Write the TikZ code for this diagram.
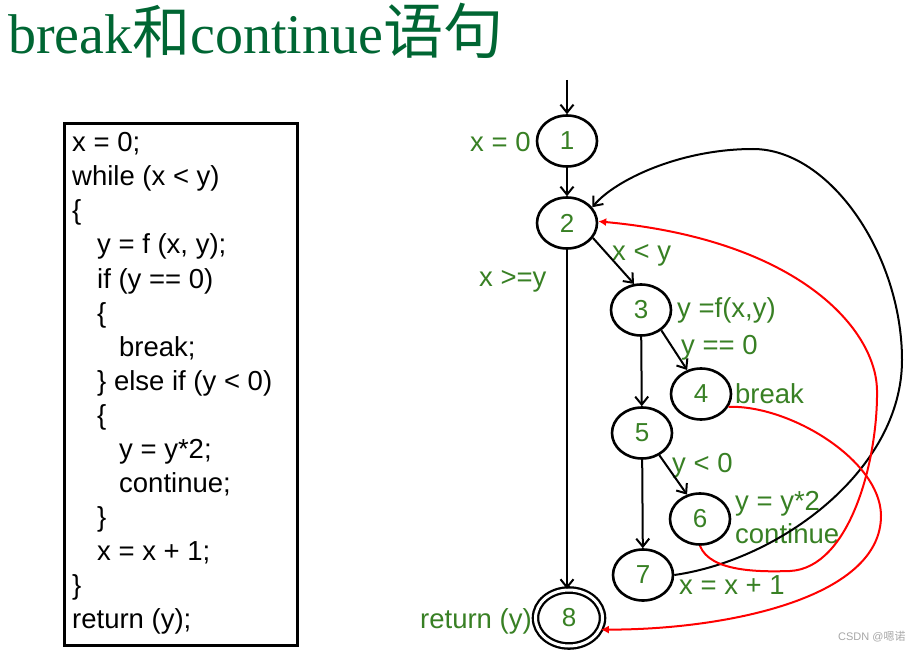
\documentclass[tikz,border=0pt]{standalone}
\usepackage{fontspec}
\newfontfamily\arial{Liberation Sans}
\newfontfamily\titleserif{Liberation Serif}
\newfontfamily\cjk{Noto Sans CJK SC}
\usetikzlibrary{shapes.geometric,arrows.meta}
\definecolor{titlegreen}{RGB}{0,102,51}
\definecolor{lblgreen}{RGB}{56,128,36}
\tikzset{
 cfgnode/.style={ellipse,draw=black,line width=2.6pt,minimum width=60pt,minimum height=51pt,inner sep=0pt,text=lblgreen,font=\arial\fontsize{26}{26}\selectfont},
 exitnode/.style={cfgnode,double,double distance=3pt,line width=2.3pt,minimum width=67pt,minimum height=56pt},
 codeline/.style={anchor=base west,inner sep=0pt,font=\arial\fontsize{27.5}{27.5}\selectfont},
 lbl/.style={anchor=base west,inner sep=0pt,text=lblgreen,font=\arial\fontsize{27.5}{27.5}\selectfont},
 flow/.style={line width=2pt,-{Straight Barb[length=8pt,width=13pt]}},
 jump/.style={red,line width=2pt,-{Latex[length=8pt,width=8pt]}},
}
\begin{document}
\begin{tikzpicture}[x=1pt,y=-1pt]
\useasboundingbox (0,0) rectangle (922,650);
% title
\node[anchor=base west,inner sep=0pt,text=titlegreen,font=\titleserif\fontsize{56}{56}\selectfont] (title) at (8,54) {break{\cjk\fontsize{58}{58}\selectfont 和}continue{\cjk\fontsize{60}{60}\selectfont 语句}};
% code box
\node[draw,line width=2.6pt,minimum width=233pt,minimum height=522pt,inner sep=0pt,anchor=north west] (codebox) at (63,122) {};
\node[codeline] (c1) at (72,152) {x = 0;};
\node[codeline] (c2) at (72,186) {while (x < y)};
\node[codeline] (c3) at (72,220) {\{};
\node[codeline] (c4) at (97,254) {y = f (x, y);};
\node[codeline] (c5) at (97,288) {if (y == 0)};
\node[codeline] (c6) at (97,322) {\{};
\node[codeline] (c7) at (119,356) {break;};
\node[codeline] (c8) at (97,390) {\} else if (y < 0)};
\node[codeline] (c9) at (97,424) {\{};
\node[codeline] (c10) at (119,458) {y = y*2;};
\node[codeline] (c11) at (119,492) {continue;};
\node[codeline] (c12) at (97,526) {\}};
\node[codeline] (c13) at (97,560) {x = x + 1;};
\node[codeline] (c14) at (72,594) {\}};
\node[codeline] (c15) at (72,628) {return (y);};
% graph nodes
\node[cfgnode] (n1) at (567,141) {1};
\node[cfgnode] (n2) at (567,223) {2};
\node[cfgnode] (n3) at (641,310) {3};
\node[cfgnode] (n4) at (701,394) {4};
\node[cfgnode] (n5) at (642,433) {5};
\node[cfgnode] (n6) at (700,519) {6};
\node[cfgnode] (n7) at (643,575) {7};
\node[exitnode] (n8) at (569,618) {8};
% labels
\node[lbl] (l1) at (470,152) {x = 0};
\node[lbl] (l2) at (479,287) {x >=y};
\node[lbl] (l3) at (612,260) {x < y};
\node[lbl] (l4) at (677,317) {y =f(x,y)};
\node[lbl] (l5) at (681,354) {y == 0};
\node[lbl] (l6) at (735,403) {break};
\node[lbl] (l7) at (672,472) {y < 0};
\node[lbl] (l8) at (735,510) {y = y*2};
\node[lbl] (l9) at (735,543) {continue};
\node[lbl] (l10) at (679,594) {x = x + 1};
\node[lbl] (l11) at (420,628) {return (y)};
\node[anchor=base west,inner sep=0pt,text=black!35,font=\arial\fontsize{11}{11}\selectfont] (wm) at (838,640) {CSDN @{\cjk 嗯诺}};
% edges
\coordinate (entry) at (567,80);
\draw[flow] (entry) -- (n1);
\draw[flow] (n1) -- (n2);
\draw[flow] (n2.-30) -- (n3.105);
\draw[flow] (n2.south) -- (n2.south |- n8.north);
\draw[flow] (n3) -- (n5);
\draw[flow] (n3.-45) -- (n4.120);
\draw[flow] (n5.-52) -- (n6.118);
\draw[flow] (n5) -- (n7);
\draw[flow] (n7.east) .. controls (780,560) and (902,470) .. (902,360)
  .. controls (902,255) and (830,149) .. (753,149)
  .. controls (680,149) and (615,180) .. (n2.32);
\draw[jump] (n6.south) .. controls (710,572) and (760,572) .. (790,571)
  .. controls (850,568) and (878,460) .. (877,390)
  .. controls (876,330) and (800,240) .. (n2.3);
\draw[jump] (n4.-25) .. controls (790,405) and (880,460) .. (881,515)
  .. controls (882,600) and (720,630) .. (n8.-20);
\end{tikzpicture}
\end{document}
